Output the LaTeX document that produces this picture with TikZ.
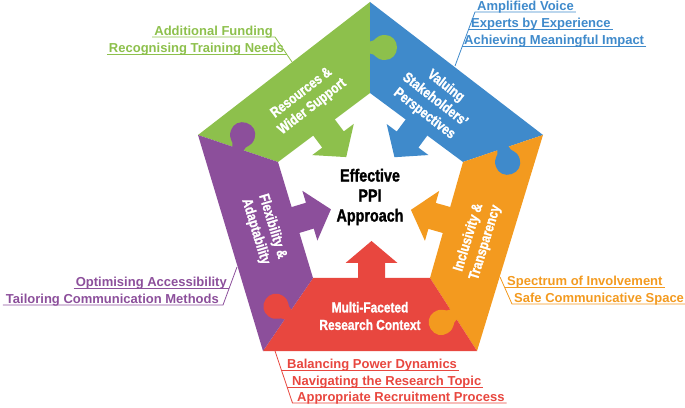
\documentclass[tikz,border=0pt]{standalone}
\usepackage{fontspec}
\setmainfont{Liberation Sans}
\newfontfamily\condbold[FakeStretch=0.82,FakeBold=1.3]{Liberation Sans Bold}
\usepackage[HTML]{xcolor}
\usepackage{tikz}
\usetikzlibrary{positioning,calc}

\definecolor{ppigreen}{HTML}{8DC04C}
\definecolor{ppiblue}{HTML}{3F8ACB}
\definecolor{ppiorange}{HTML}{F39A1F}
\definecolor{ppired}{HTML}{E8473F}
\definecolor{ppipurple}{HTML}{8C4F9B}

% puzzle knob: colour, place on the seam, direction
\newcommand{\knob}[3]{%
  \fill[#1,shift={(#2)},rotate=#3] (-1,-6) -- (0,-6) .. controls (6,-6) and (5,-12.5) .. (15,-12.5)
    .. controls (22,-12.5) and (27,-7) .. (27,0) .. controls (27,7) and (22,12.5) .. (15,12.5)
    .. controls (5,12.5) and (6,6) .. (0,6) -- (-1,6) -- cycle;}
% arrow into the centre: colour, place on the inner edge, direction
\newcommand{\inarrow}[3]{%
  \fill[#1,shift={(#2)},rotate=#3] (-2,-13.5) -- (15,-13.5) -- (15,-26) -- (37,0)
    -- (15,26) -- (15,13.5) -- (-2,13.5) -- cycle;}

\begin{document}
\begin{tikzpicture}[x=1pt,y=1pt,
  piece/.style={text=white,align=center,inner sep=0pt,font=\condbold\fontsize{14.5}{17.5}\selectfont},
  hub/.style={text=black,align=center,font=\condbold\fontsize{17.5}{20}\selectfont},
  lbl/.style={inner sep=0pt,font=\bfseries\fontsize{13}{15}\selectfont},
  uline/.style={line width=0.8pt}]
\useasboundingbox (0,0) rectangle (685,407);
% outer and inner corners
\coordinate (oT) at (370,405);
\coordinate (oR) at (543,272);
\coordinate (oBR) at (477,56);
\coordinate (oBL) at (263,56);
\coordinate (oL) at (198,272);
\coordinate (iT) at (370,314);
\coordinate (iR) at (463,245);
\coordinate (iBR) at (430,129);
\coordinate (iBL) at (313,129);
\coordinate (iL) at (278,245);
% the five pieces
\fill[ppigreen] (oL) -- (oT) -- (iT) -- (iL) -- cycle;
\fill[ppiblue] (oT) -- (oR) -- (iR) -- (iT) -- cycle;
\fill[ppiorange] (oR) -- (oBR) -- (iBR) -- (iR) -- cycle;
\fill[ppired] (oBR) -- (oBL) -- (iBL) -- (iBR) -- cycle;
\fill[ppipurple] (oBL) -- (oL) -- (iL) -- (iBL) -- cycle;
% knobs on the seams
\coordinate (kGB) at ($(oT)!0.5!(iT)$);
\coordinate (kBO) at ($(oR)!0.5!(iR)$);
\coordinate (kOR) at ($(oBR)!0.5!(iBR)$);
\coordinate (kRP) at ($(oBL)!0.5!(iBL)$);
\coordinate (kPG) at ($(oL)!0.5!(iL)$);
\knob{ppigreen}{kGB}{0}
\knob{ppiblue}{kBO}{-71.4}
\knob{ppiorange}{kOR}{212.8}
\knob{ppired}{kRP}{145.6}
\knob{ppipurple}{kPG}{71.4}
% arrows to the centre
\coordinate (aG) at ($(iL)!0.5!(iT)$);
\coordinate (aB) at ($(iT)!0.5!(iR)$);
\coordinate (aO) at ($(iR)!0.5!(iBR)$);
\coordinate (aR) at ($(iBR)!0.5!(iBL)$);
\coordinate (aP) at ($(iBL)!0.5!(iL)$);
\inarrow{ppigreen}{aG}{-53.1}
\inarrow{ppiblue}{aB}{-126.6}
\inarrow{ppiorange}{aO}{164.1}
\inarrow{ppired}{aR}{90}
\inarrow{ppipurple}{aP}{16.8}
% piece titles
\node[piece,rotate=37.7] (resources) at (307,307) {Resources \&\\Wider Support};
\node[piece,rotate=-37.7] (valuing) at (435,307) {Valuing\\Stakeholders’\\Perspectives};
\node[piece,rotate=73] (inclusivity) at (477,167) {Inclusivity \&\\Transparency};
\node[piece,rotate=-73] (flexibility) at (264,178) {Flexibility \&\\Adaptability};
\node[piece] (context) at (370,91) {Multi-Faceted\\Research Context};
\node[hub] (ppi) at (370,210) {Effective\\PPI\\Approach};
% green labels
\coordinate (g1) at (275,370);
\coordinate (g2) at (286.6,353);
\coordinate (gE) at (292,345);
\node[lbl,text=ppigreen,anchor=base east] (funding) at (273,371.5) {Additional Funding};
\node[lbl,text=ppigreen,anchor=base east] (training) at (284,354.5) {Recognising Training Needs};
\draw[uline,ppigreen] ([shift={(-2,-1.5)}]funding.base west) -- (g1) -- (gE);
\draw[uline,ppigreen] ([shift={(-2,-1.5)}]training.base west) -- (g2);
% blue labels
\coordinate (b1) at (475,395);
\coordinate (b2) at (468.7,378);
\coordinate (b3) at (462.4,361);
\coordinate (bE) at (455,341);
\node[lbl,text=ppiblue,anchor=base west] (voice) at (477,396.5) {Amplified Voice};
\node[lbl,text=ppiblue,anchor=base west] (experts) at (471,379.5) {Experts by Experience};
\node[lbl,text=ppiblue,anchor=base west] (impact) at (464,362.5) {Achieving Meaningful Impact};
\draw[uline,ppiblue] ([shift={(2,-1.5)}]voice.base east) -- (b1) -- (bE);
\draw[uline,ppiblue] ([shift={(2,-1.5)}]experts.base east) -- (b2);
\draw[uline,ppiblue] ([shift={(2,-1.5)}]impact.base east) -- (b3);
% purple labels
\coordinate (pE) at (237,140);
\coordinate (p1) at (229.3,119);
\coordinate (p2) at (223,102);
\node[lbl,text=ppipurple,anchor=base east] (access) at (227,120.5) {Optimising Accessibility};
\node[lbl,text=ppipurple,anchor=base east] (methods) at (219,103.5) {Tailoring Communication Methods};
\draw[uline,ppipurple] ([shift={(-2,-1.5)}]access.base west) -- (p1);
\draw[uline,ppipurple] ([shift={(-3,-1.5)}]methods.base west) -- (p2) -- (pE);
% orange labels
\coordinate (oE) at (500,130);
\coordinate (o1) at (504.5,120);
\coordinate (o2) at (512,103);
\node[lbl,text=ppiorange,anchor=base west] (spectrum) at (507,121.5) {Spectrum of Involvement};
\node[lbl,text=ppiorange,anchor=base west] (space) at (514,104.5) {Safe Communicative Space};
\draw[uline,ppiorange] (o1) -- ([shift={(2,-1.5)}]spectrum.base east);
\draw[uline,ppiorange] (oE) -- (o2) -- ([shift={(2,-1.5)}]space.base east);
% red labels
\coordinate (rE) at (275,56);
\coordinate (r1) at (281.4,37);
\coordinate (r2) at (287.1,20);
\coordinate (r3) at (292.5,4);
\node[lbl,text=ppired,anchor=base west] (power) at (287,38.5) {Balancing Power Dynamics};
\node[lbl,text=ppired,anchor=base west] (topic) at (292,21.5) {Navigating the Research Topic};
\node[lbl,text=ppired,anchor=base west] (recruit) at (297,5.5) {Appropriate Recruitment Process};
\draw[uline,ppired] (rE) -- (r3) -- ([shift={(2,-1.5)}]recruit.base east);
\draw[uline,ppired] (r1) -- ([shift={(2,-1.5)}]power.base east);
\draw[uline,ppired] (r2) -- ([shift={(2,-1.5)}]topic.base east);
\end{tikzpicture}
\end{document}
